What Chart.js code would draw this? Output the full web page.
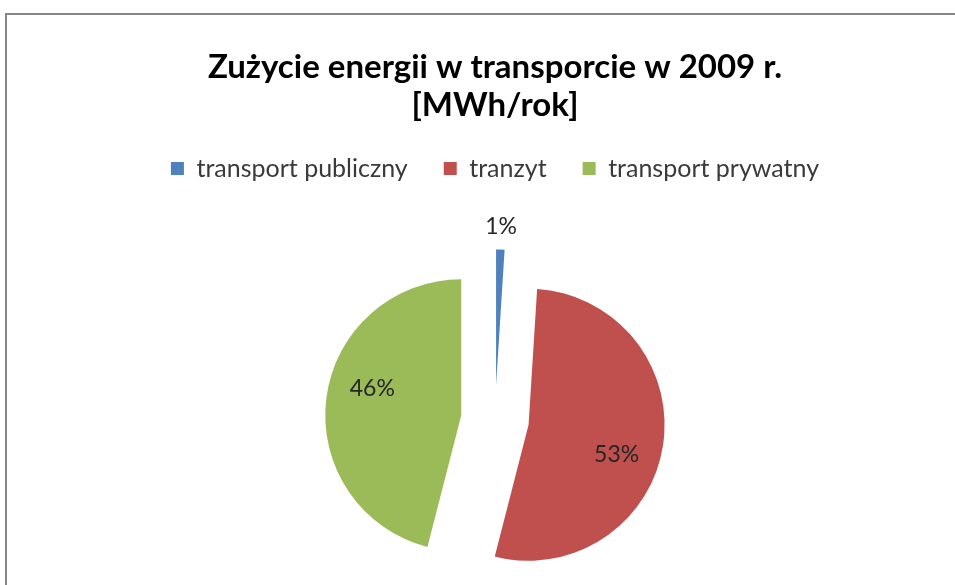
<!DOCTYPE html>
<html>
<head>
<meta charset="utf-8">
<script src="https://cdn.jsdelivr.net/npm/chart.js@4.4.0/dist/chart.umd.min.js"></script>
<style>
  body { margin: 0; background: #fff; overflow: hidden; }
  #frame { position: absolute; left: 5px; top: 13px; width: 1100px; height: 800px; border: 2px solid #878787; }
  #wrap { position: absolute; left: 0; top: 0; width: 990px; height: 585px; }
</style>
</head>
<body>
<div id="frame"></div>
<div id="wrap"><canvas id="energyChart" width="990" height="585"></canvas></div>
<script>
const categories = ['transport publiczny', 'tranzyt', 'transport prywatny'];
const shares = [1, 53, 46];
const sliceColors = ['#4F81BD', '#C0504D', '#9BBB59'];
const titleLines = ['Zużycie energii w transporcie w 2009 r.', '[MWh/rok]'];

// how far every slice is pulled out of the pie (px)
const explode = 34;

// draw each slice shifted along its middle angle, without the radius
// growth that the built-in arc offset adds
const explodeSlices = {
    id: 'explodeSlices',
    beforeDatasetDraw(chart, args) {
        const ctx = chart.ctx;
        args.meta.data.forEach(arc => {
            const mid = (arc.startAngle + arc.endAngle) / 2;
            ctx.save();
            ctx.translate(Math.cos(mid) * explode, Math.sin(mid) * explode);
            arc.draw(ctx);
            ctx.restore();
        });
        return false;
    }
};

// percentage labels: big slices inside, thin ones outside the rim
const percentLabels = {
    id: 'percentLabels',
    afterDatasetsDraw(chart) {
        const ctx = chart.ctx;
        const meta = chart.getDatasetMeta(0);
        const values = chart.data.datasets[0].data;
        const total = values.reduce((a, b) => a + b, 0);
        ctx.save();
        ctx.font = '23px Lato';
        ctx.fillStyle = '#262626';
        ctx.textAlign = 'center';
        ctx.textBaseline = 'middle';
        meta.data.forEach((arc, i) => {
            const p = arc.getProps(['x', 'y', 'startAngle', 'endAngle', 'outerRadius'], true);
            const share = values[i] / total;
            let angle = (p.startAngle + p.endAngle) / 2;
            let dist;
            if (share < 0.05) {
                dist = explode + p.outerRadius + 23;
            } else {
                angle += 0.12;
                dist = explode + p.outerRadius * 0.68;
            }
            ctx.fillText(Math.round(share * 100) + '%',
                p.x + Math.cos(angle) * dist,
                p.y + Math.sin(angle) * dist);
        });
        ctx.restore();
    }
};

// extra room between the legend and the pie
const legendGap = {
    id: 'legendGap',
    beforeInit(chart) {
        const fit = chart.legend.fit;
        chart.legend.fit = function () {
            fit.bind(chart.legend)();
            this.height += 75;
        };
    }
};

new Chart(document.getElementById('energyChart'), {
    type: 'pie',
    data: {
        labels: categories,
        datasets: [{
            data: shares,
            backgroundColor: sliceColors,
            borderWidth: 0,
            radius: 136
        }]
    },
    options: {
        responsive: false,
        animation: false,
        layout: { padding: { bottom: 12 } },
        plugins: {
            title: {
                display: true,
                text: titleLines,
                color: '#000',
                font: { family: 'Lato', size: 33, weight: 'bold', lineHeight: 1.136 },
                padding: { top: 49, bottom: -4 }
            },
            legend: {
                position: 'top',
                labels: {
                    boxWidth: 13,
                    boxHeight: 13,
                    padding: 36,
                    color: '#3a3a3a',
                    font: { family: 'Lato', size: 25 }
                }
            },
            tooltip: { enabled: false }
        }
    },
    plugins: [explodeSlices, percentLabels, legendGap]
});
</script>
</body>
</html>
